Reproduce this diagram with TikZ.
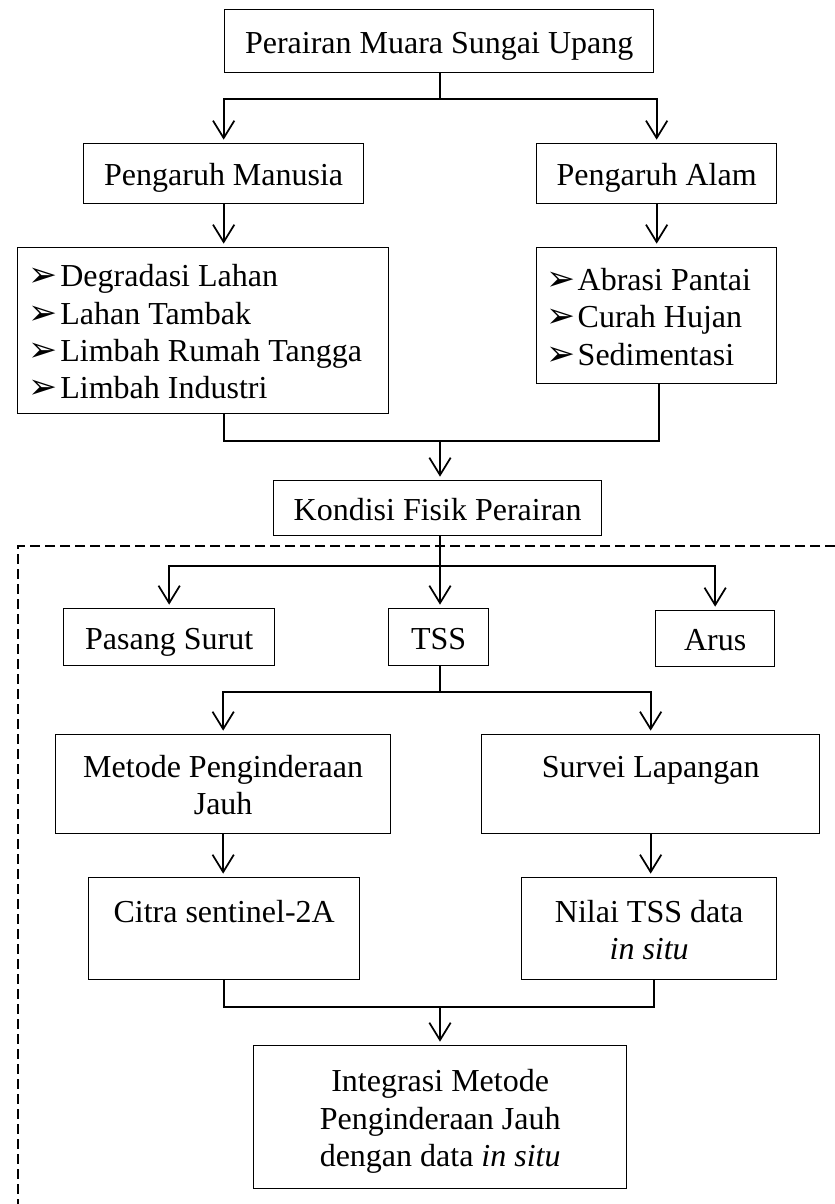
\documentclass[tikz,border=0pt]{standalone}
\usepackage{fontspec}
\setmainfont{Liberation Serif}
\newfontfamily\simbol{DejaVu Sans}
\usetikzlibrary{arrows.meta}

\newcommand{\teks}{\fontsize{24}{28}\selectfont}
\newcommand{\butir}{\smash{\simbol\fontsize{26}{28}\selectfont ➢}\hspace{2pt}}
\newcommand{\isi}[1]{\begin{tabular}[t]{@{}c@{}}#1\end{tabular}}
\newcommand{\rincian}[2]{\begin{tabular}[t]{@{}p{#1}@{}}#2\end{tabular}}

\tikzset{every picture/.style={line width=0.75pt}}
\tikzset{
  kotak/.style={draw, line width=1pt, inner sep=0pt, font=\teks, anchor=north west, text height=22pt, text depth=4pt},
  garis/.style={line width=1.3pt},
  panah/.style={garis, -{Straight Barb[length=13pt,width=16pt]}, shorten >=2.5pt},
  putus/.style={line width=2pt, dash pattern=on 7.5pt off 3.75pt}
}

\begin{document}
\begin{tikzpicture}[x=0.75pt,y=0.75pt,yscale=-1,xscale=1]
\useasboundingbox (0,0) rectangle (835,1204);

%Dashed Lines
\draw [putus] (835,546) -- (18,546) -- (18,1204) ;

% Text Node
\node [kotak, minimum width=321.75pt, minimum height=47.25pt] (atas) at (224,9) {Perairan Muara Sungai Upang};
% Text Node
\node [kotak, minimum width=210pt, minimum height=45pt] (manusia) at (83,143) {Pengaruh Manusia};
% Text Node
\node [kotak, minimum width=180pt, minimum height=45pt] (alam) at (536,143) {Pengaruh Alam};
% Text Node
\node [kotak, inner xsep=8.25pt, minimum height=124.5pt, text depth=88pt] (listL) at (17,247)
  {\rincian{261.75pt}{\butir Degradasi Lahan\\ \butir Lahan Tambak\\ \butir Limbah Rumah Tangga\\ \butir Limbah Industri}};
% Text Node
\node [kotak, inner xsep=7pt, minimum height=102pt, text depth=60pt] (listR) at (536,247)
  {\rincian{166pt}{\butir Abrasi Pantai\\ \butir Curah Hujan\\ \butir Sedimentasi}};
% Text Node
\node [kotak, minimum width=246pt, minimum height=41.25pt] (kondisi) at (273,480) {Kondisi Fisik Perairan};
% Text Node
\node [kotak, minimum width=158.25pt, minimum height=42.75pt] (pasang) at (63,608) {Pasang Surut};
% Text Node
\node [kotak, minimum width=75pt, minimum height=42.75pt] (tss) at (388,608) {TSS};
% Text Node
\node [kotak, minimum width=89.25pt, minimum height=42pt] (arus) at (655,610) {Arus};
% Text Node
\node [kotak, minimum width=251.25pt, minimum height=74.25pt, text depth=32pt] (metode) at (55,734) {\isi{Metode Penginderaan\\ Jauh}};
% Text Node
\node [kotak, minimum width=253.5pt, minimum height=74.25pt, text depth=32pt] (survei) at (481,734) {Survei Lapangan};
% Text Node
\node [kotak, minimum width=203.25pt, minimum height=76.5pt, text depth=32pt] (citra) at (88,877) {Citra sentinel-2A};
% Text Node
\node [kotak, minimum width=191.25pt, minimum height=76.5pt, text depth=32pt] (nilai) at (521,877) {\isi{Nilai TSS data\\ \textit{in situ}}};
% Text Node
\node [kotak, minimum width=279.75pt, minimum height=107.25pt, text depth=60pt] (integrasi) at (253,1045)
  {\isi{Integrasi Metode\\ Penginderaan Jauh\\ dengan data \textit{in situ}}};

%Straight Lines
\coordinate (c1) at (440,99);
\draw [garis] (atas.south -| c1) -- (c1) ;
\draw [panah] (c1) -| (manusia) ;
\draw [panah] (c1) -| (alam) ;
\draw [panah] (manusia.south) -- (manusia.south |- listL.north) ;
\draw [panah] (alam) -- (listR) ;

%Straight Lines
\coordinate (c2a) at (224,441);
\coordinate (c2b) at (659,441);
\coordinate (c2) at (440,441);
\draw [garis] (listL.south -| c2a) -- (c2a) -- (c2b) -- (listR.south -| c2b) ;
\draw [panah] (c2) -- (c2 |- kondisi.north) ;

%Straight Lines
\coordinate (c3) at (440,566);
\draw [panah] (kondisi.south -| c3) -- (c3 |- tss.north) ;
\draw [panah] (c3) -| (pasang) ;
\draw [panah] (c3) -| (arus) ;

%Straight Lines
\coordinate (c4) at (440,692);
\draw [garis] (tss.south -| c4) -- (c4) ;
\draw [panah] (c4) -| (metode) ;
\draw [panah] (c4) -| (survei) ;
\draw [panah] (metode.south) -- (metode.south |- citra.north) ;
\draw [panah] (survei.south) -- (survei.south |- nilai.north) ;

%Straight Lines
\coordinate (c5a) at (224,1007);
\coordinate (c5b) at (654,1007);
\coordinate (c5) at (440,1007);
\draw [garis] (citra.south -| c5a) -- (c5a) -- (c5b) -- (nilai.south -| c5b) ;
\draw [panah] (c5) -- (c5 |- integrasi.north) ;

\end{tikzpicture}
\end{document}
